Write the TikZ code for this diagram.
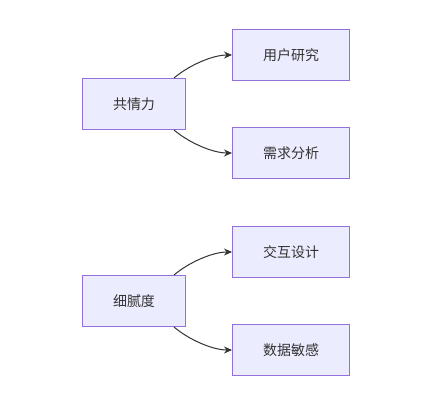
\documentclass[tikz,border=0pt]{standalone}
\usepackage{fontspec}
\newfontfamily\cjk{Noto Sans CJK SC}
\usetikzlibrary{arrows.meta}
\definecolor{boxfill}{HTML}{ECECFF}
\definecolor{boxline}{HTML}{9370DB}
\definecolor{txt}{HTML}{333333}
\begin{document}
\begin{tikzpicture}[x=1pt,y=-1pt,
  box/.style={draw=boxline,fill=boxfill,line width=1pt,text=txt,font=\cjk\fontsize{14}{16}\selectfont,inner sep=0pt},
  link/.style={draw=txt,line width=1pt,-{Stealth[length=8pt,width=7pt]}}]
\useasboundingbox[fill=white] (0,0) rectangle (440,405);
\node[box,minimum width=103pt,minimum height=51pt] (a) at (134,104) {共情力};
\node[box,minimum width=117pt,minimum height=51pt] (b) at (291,55) {用户研究};
\node[box,minimum width=117pt,minimum height=51pt] (c) at (291,153) {需求分析};
\node[box,minimum width=103pt,minimum height=51pt] (d) at (134,301) {细腻度};
\node[box,minimum width=117pt,minimum height=51pt] (e) at (291,252) {交互设计};
\node[box,minimum width=117pt,minimum height=51pt] (f) at (291,350) {数据敏感};
\draw[link] ([xshift=-12pt]a.north east) .. controls +(14,-12) and +(-20,0) .. (b.west);
\draw[link] ([xshift=-12pt]a.south east) .. controls +(14,12) and +(-20,0) .. (c.west);
\draw[link] ([xshift=-12pt]d.north east) .. controls +(14,-12) and +(-20,0) .. (e.west);
\draw[link] ([xshift=-12pt]d.south east) .. controls +(14,12) and +(-20,0) .. (f.west);
\end{tikzpicture}
\end{document}
